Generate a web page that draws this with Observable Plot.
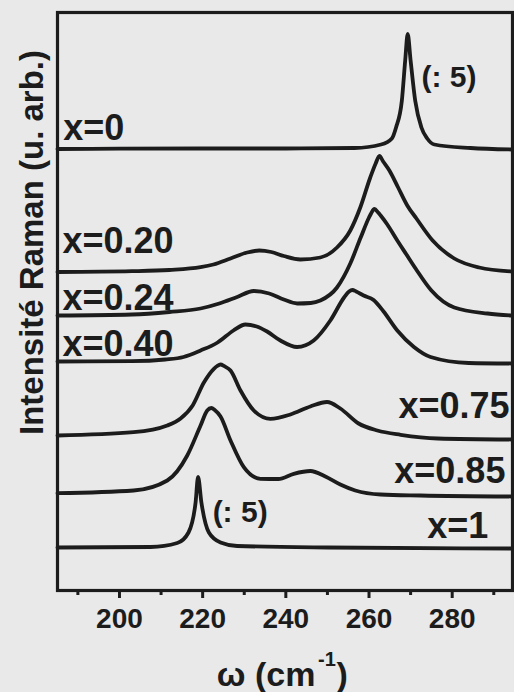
<!DOCTYPE html>
<html><head><meta charset="utf-8">
<script src="https://cdn.jsdelivr.net/npm/d3@7"></script>
<script src="https://cdn.jsdelivr.net/npm/@observablehq/plot@0.6"></script>
<style>html,body{margin:0;padding:0;background:#e9e9e9;}</style>
</head><body><div id="chart"></div>
<script>
// Tick values (cm^-1)
const omegaTicks = [200, 220, 240, 260, 280];
const omegaMinorTicks = [190, 210, 230, 250, 270, 290];

// Spectra: [omega (cm^-1), stacked intensity (arb. units, offset included)]
const spec_x0 = [[185.1,441.5],[200,441.8],[220,442],[240,442],[256.5,442.5],[262.9,446],[265.5,452],[266.5,463],[267.9,490],[268.7,530],[269.3,556.5],[270.0,530],[271.1,490],[272.6,463],[274,452],[275.7,446],[284.4,442.5],[294.5,441]];
const spec_x020 = [[185.1,318.5],[203,319.3],[212,320.5],[219.5,323.3],[222.6,326],[226.7,332],[230.7,338],[233.6,340],[236.5,338.5],[239.5,334.5],[243.5,331],[248.3,333],[252.3,343],[255.5,360],[257.9,383],[260.3,413],[261.6,427],[262.5,434.5],[263.4,429],[264.9,420],[267,403],[269.2,385],[271.4,372],[275.3,350],[280.5,332],[286.5,323],[294.5,319]];
const spec_x024 = [[185.1,275],[203,276],[212,278.5],[219.5,282],[224,287],[228.3,293.5],[232.3,299.5],[236,297],[239.5,291],[242.7,287],[246,287.5],[248.3,290],[252.3,303],[255.5,327],[258,353],[260,373],[260.5,377],[261.3,381.5],[262.2,378],[262.8,375],[264.4,366],[266.8,350],[269,336],[271.2,322],[275,300],[280.5,283],[288.5,277],[294.5,275]];
const spec_x040 = [[185.1,229],[203,229.3],[211,231],[215.4,233.5],[219.5,240],[223.6,248],[227.4,260],[230.3,266],[233,264],[235.5,259],[238.7,250],[242.7,243.5],[246.7,250],[250.7,270],[254,293],[255.2,299],[256,300.5],[256.9,299],[258.7,295],[261.1,290.5],[263.5,279],[266.8,260],[270.8,243.5],[274.8,233.5],[284,227.5],[294.5,227]];
const spec_x075 = [[185.1,155],[203.4,158.3],[211.5,165],[214.7,172],[217.6,185],[220.3,208],[222.7,221.7],[223.5,224.5],[224.3,226],[225.2,224.3],[226.7,220],[229.1,200],[232.3,180],[236.3,171.7],[241.1,176],[245.9,184],[249.9,188.5],[253.1,182],[257.5,167],[262,160],[267.6,155.7],[276.5,152],[294.5,151]];
const spec_x085 = [[185.1,97.3],[203.4,100],[211.5,110],[216.3,135],[219.5,165],[221.1,180],[222.1,182.5],[222.9,180.5],[224.3,174],[226.7,150],[229.9,123.3],[233.9,111.7],[238.2,111.5],[241.9,116.7],[245.9,119.5],[249.5,114],[253.1,106],[256.7,100],[262.8,96],[272.4,95],[294.5,94]];
const spec_x1 = [[185.1,43],[207.5,43.5],[213.9,47.5],[216.6,58],[218.3,88],[218.9,113.5],[219.7,88],[221.5,58],[224.3,48],[228.3,44.5],[250,43],[294.5,42]];

const compositions = ["x=0","x=0.20","x=0.24","x=0.40","x=0.75","x=0.85","x=1"];
const spectra = [spec_x0, spec_x020, spec_x024, spec_x040, spec_x075, spec_x085, spec_x1];

// Label annotations (data coordinates: omega, intensity at text baseline)
const leftLabels = [
  {text: "x=0", w: 186.5, v: 451},
  {text: "x=0.20", w: 186.3, v: 338},
  {text: "x=0.24", w: 186.3, v: 281},
  {text: "x=0.40", w: 186.3, v: 235}
];
const rightLabels = [
  {text: "x=0.75", w: 293.8, v: 173},
  {text: "x=0.85", w: 292.8, v: 108},
  {text: "x=1", w: 288.7, v: 53}
];
const scaleNotes = [
  {text: "(: 5)", w: 272.6, v: 504},
  {text: "(: 5)", w: 222.4, v: 69}
];
const yTitle = ["Intensité Raman (u. arb.)"];
const xTitleMain = ["ω (cm"];
const xTitleSup = ["-1"];
const xTitleEnd = [")"];

const rows = spectra.flatMap((s, i) => s.map(([w, v]) => ({comp: compositions[i], w, v})));
const ink = "#1c1c1c";

const chart = Plot.plot({
  width: 514, height: 692,
  marginLeft: 57, marginRight: 2, marginTop: 12, marginBottom: 102,
  x: {domain: [185.1, 294.5]},
  y: {domain: [0, 578], axis: null},
  style: {background: "#e9e9e9", fontFamily: "'Liberation Sans', Arial, Helvetica, sans-serif", fontWeight: "bold", color: ink},
  marks: [
    Plot.axisX(omegaMinorTicks, {tickSize: 5, tickFormat: () => "", strokeWidth: 3, label: null}),
    Plot.axisX(omegaTicks, {tickSize: 8, tickPadding: 10, fontSize: 28, strokeWidth: 3, label: null}),
    Plot.frame({stroke: ink, strokeWidth: 3.2}),
    Plot.line(rows, {x: "w", y: "v", z: "comp", curve: "monotone-x", stroke: ink, strokeWidth: 3.8}),
    Plot.text(leftLabels, {x: "w", y: "v", text: "text", textAnchor: "start", lineAnchor: "middle", dy: -11.5, fontSize: 36, fill: ink}),
    Plot.text(rightLabels, {x: "w", y: "v", text: "text", textAnchor: "end", lineAnchor: "middle", dy: -11.5, fontSize: 36, fill: ink}),
    Plot.text(scaleNotes, {x: "w", y: "v", text: "text", textAnchor: "start", lineAnchor: "middle", dy: -9.6, fontSize: 30, fill: ink, style: "letter-spacing:1.5px"}),
    Plot.text(yTitle, {text: d => d, frameAnchor: "left", rotate: -90, dx: -25, dy: -59, fontSize: 33, textAnchor: "middle", lineAnchor: "middle", fill: ink}),
    Plot.text(xTitleMain, {text: d => d, frameAnchor: "bottom", dx: 30.5, dy: 85, fontSize: 34, textAnchor: "end", lineAnchor: "middle", fill: ink}),
    Plot.text(xTitleSup, {text: d => d, frameAnchor: "bottom", dx: 33, dy: 68.6, fontSize: 20, textAnchor: "start", lineAnchor: "middle", fill: ink}),
    Plot.text(xTitleEnd, {text: d => d, frameAnchor: "bottom", dx: 51.5, dy: 85, fontSize: 34, textAnchor: "start", lineAnchor: "middle", fill: ink})
  ]
});
document.getElementById("chart").appendChild(chart);
</script>
</body></html>
